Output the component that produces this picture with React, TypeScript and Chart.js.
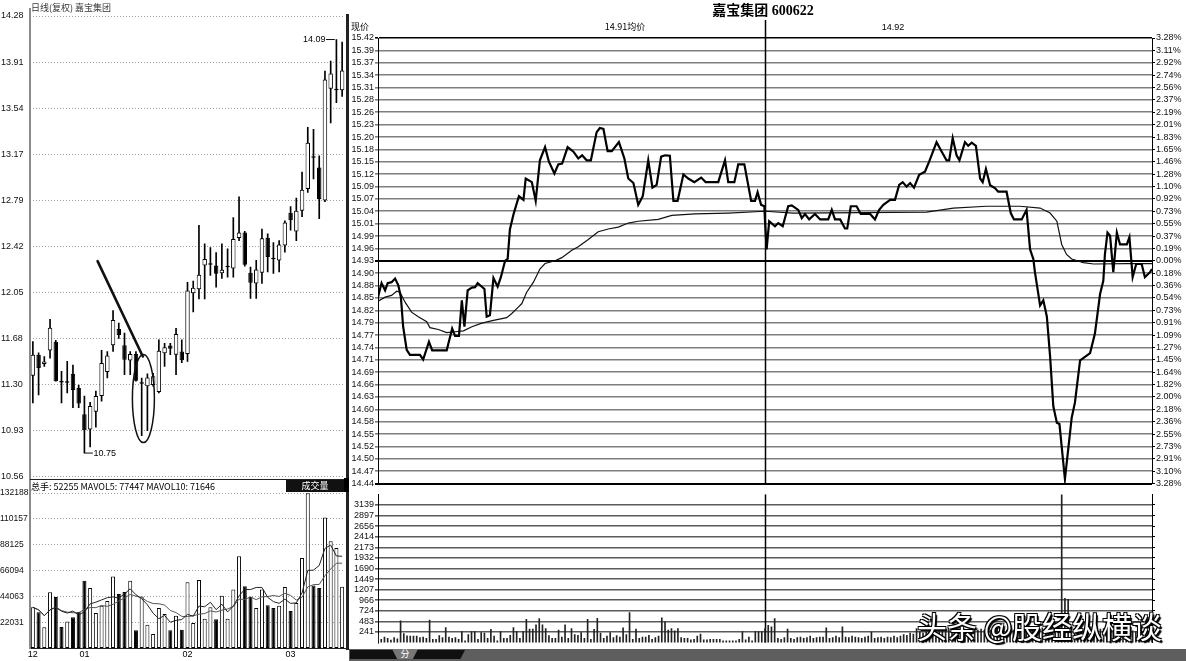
import React, { useEffect, useRef } from 'react';
import { Chart, registerables } from 'chart.js';

Chart.register(...registerables);

const FONT = '"Liberation Sans", Arial, sans-serif';
const CJK = '"Noto Sans CJK SC", "Liberation Sans", sans-serif';

// ---------------- daily K-line (left panel) ----------------
const dayOpen = [11.375, 11.544, 11.47, 11.578, 11.65, 11.33, 11.318, 11.39, 11.276, 11.063,
  10.94, 11.084, 11.21, 11.405, 11.62, 11.752, 11.62, 11.498, 11.55, 11.31,
  11.29, 11.30, 11.244, 11.556, 11.618, 11.544, 11.57, 11.55, 12.04, 12.073,
  12.265, 12.27, 12.265, 12.203, 12.25, 12.24, 12.487, 12.532, 12.206, 12.12,
  12.206, 12.49, 12.32, 12.306, 12.426, 12.69, 12.54, 12.708, 12.882, 13.14,
  13.057, 12.79, 13.693, 13.68, 13.68];
const dayHigh = [11.65, 11.56, 11.53, 11.83, 11.66, 11.41, 11.49, 11.46, 11.30, 11.21,
  11.16, 11.25, 11.58, 11.57, 11.90, 11.80, 11.72, 11.57, 11.57, 11.356,
  11.39, 11.395, 11.664, 11.637, 11.637, 11.757, 11.664, 12.13, 12.14, 12.59,
  12.44, 12.41, 12.37, 12.44, 12.40, 12.652, 12.82, 12.54, 12.253, 12.306,
  12.56, 12.52, 12.45, 12.466, 12.625, 12.74, 12.81, 13.02, 13.38, 13.365,
  13.15, 13.835, 13.916, 14.09, 14.07];
const dayLow = [11.156, 11.22, 11.45, 11.517, 11.33, 11.156, 11.236, 11.116, 11.116, 10.75,
  10.80, 10.96, 11.17, 11.356, 11.57, 11.675, 11.383, 11.383, 11.33, 10.89,
  10.93, 11.29, 11.236, 11.45, 11.544, 11.383, 11.48, 11.49, 11.89, 11.996,
  11.996, 12.185, 12.09, 12.16, 12.17, 12.17, 12.466, 12.26, 12.0, 12.0,
  12.12, 12.213, 12.2, 12.213, 12.373, 12.55, 12.466, 12.66, 12.855, 12.965,
  12.643, 12.78, 13.417, 13.58, 13.63];
const dayClose = [11.544, 11.437, 11.49, 11.763, 11.33, 11.32, 11.33, 11.26, 11.15, 10.934,
  11.13, 11.21, 11.477, 11.538, 11.824, 11.704, 11.504, 11.55, 11.335, 11.31,
  11.36, 11.37, 11.576, 11.605, 11.592, 11.712, 11.50, 12.064, 12.086, 12.19,
  12.318, 12.27, 12.198, 12.23, 12.255, 12.479, 12.532, 12.27, 12.126, 12.232,
  12.485, 12.333, 12.315, 12.434, 12.612, 12.63, 12.708, 12.876, 13.257, 13.135,
  12.803, 13.768, 13.816, 13.69, 13.84];
const dayVolume = [34700, 30400, 17600, 47500, 43500, 17900, 22500, 26200, 30700, 57400,
  51200, 29900, 36000, 40000, 61000, 46000, 47800, 57400, 15100, 44000,
  19900, 11900, 34100, 29000, 15100, 27600, 15600, 56000, 21300, 58000,
  25000, 34700, 24500, 44600, 25000, 49800, 78200, 52600, 43500, 34100,
  49800, 36400, 34100, 36100, 52000, 31600, 38400, 76800, 132000, 53400,
  51200, 111400, 91000, 85300, 52255];

const dayPriceMin = 10.56;
const dayPriceMax = 14.28;
const dayPriceTickLabels = ['10.56', '10.93', '11.30', '11.68', '12.05', '12.42', '12.79', '13.17', '13.54', '13.91', '14.28'];
const dayVolMax = 132188;
const dayVolTickLabels = ['22031', '44063', '66094', '88125', '110157', '132188'];
const monthTickIndex = [0, 9, 27, 45];
const monthTickText = ['12', '01', '02', '03'];

// hand-drawn marks on the K-line (data coordinates)
const trendLine = { fromIndex: 11.3, fromPrice: 12.30, toIndex: 19.2, toPrice: 11.53 };
const circleMark = { index: 19.3, price: 11.19 };

// ---------------- intraday (right panel) ----------------
const prevClose = 14.93;
const intradayMin = 14.44;
const intradayMax = 15.42;
const middayMinute = 120;
const priceTickLabels = ['15.42', '15.39', '15.37', '15.34', '15.31', '15.28', '15.26', '15.23', '15.20', '15.18',
  '15.15', '15.12', '15.09', '15.07', '15.04', '15.01', '14.99', '14.96', '14.93', '14.90',
  '14.88', '14.85', '14.82', '14.79', '14.77', '14.74', '14.71', '14.69', '14.66', '14.63',
  '14.60', '14.58', '14.55', '14.52', '14.50', '14.47', '14.44'];
const pctTickLabels = ['3.28%', '3.11%', '2.92%', '2.74%', '2.56%', '2.37%', '2.19%', '2.01%', '1.83%', '1.65%',
  '1.46%', '1.28%', '1.10%', '0.92%', '0.73%', '0.55%', '0.37%', '0.19%', '0.00%', '0.18%',
  '0.36%', '0.54%', '0.73%', '0.91%', '1.09%', '1.27%', '1.45%', '1.64%', '1.82%', '2.00%',
  '2.18%', '2.36%', '2.55%', '2.73%', '2.91%', '3.10%', '3.28%'];
const minuteVolMax = 3380;
const minuteVolTickLabels = ['241', '483', '724', '966', '1207', '1449', '1690', '1932', '2173', '2414', '2656', '2897', '3139'];

const priceTimes = [0, 1.1, 2.2, 3.0, 4.2, 5.3, 6.3, 7.1, 7.8, 8.9,
  9.9, 13.0, 14.0, 15.8, 16.8, 21.3, 23.0, 23.9, 25.1, 26.0,
  26.8, 27.8, 29.1, 30.1, 30.9, 32.2, 33.0, 33.7, 34.7, 35.8,
  37.1, 38.1, 39.4, 40.2, 40.9, 42.0, 43.7, 45.1, 45.8, 47.7,
  48.9, 50.2, 51.8, 53.0, 54.7, 55.9, 57.1, 58.8, 60.6, 62.1,
  63.3, 64.7, 66.0, 67.8, 68.8, 69.9, 71.2, 72.5, 74.7, 76.4,
  77.6, 79.2, 80.7, 82.1, 83.8, 85.1, 86.4, 87.8, 89.0, 90.5,
  91.6, 92.9, 94.7, 96.2, 98.1, 100.2, 101.6, 105.5, 107.6, 108.6,
  110.5, 111.7, 113.6, 115.7, 116.9, 117.7, 118.8, 119.8, 120.0, 120.5,
  121.3, 123.1, 124.1, 125.5, 127.2, 128.3, 130.3, 131.4, 132.4, 133.7,
  135.5, 137.1, 139.6, 140.7, 141.7, 143.3, 144.8, 145.5, 146.6, 148.4,
  149.7, 152.6, 154.1, 155.4, 156.7, 158.8, 160.3, 161.6, 162.7, 163.9,
  165.0, 166.2, 167.8, 169.6, 170.9, 173.2, 174.8, 176.3, 177.1, 178.2,
  179.4, 180.3, 182.0, 183.0, 184.1, 185.4, 186.7, 187.5, 188.5, 189.8,
  191.3, 192.3, 194.9, 196.2, 197.2, 199.6, 201.1, 202.2, 203.2, 203.7,
  205.3, 206.3, 207.4, 208.4, 209.4, 210.5, 211.3, 213.0, 215.1, 216.1,
  217.7, 218.7, 220.8, 222.3, 223.9, 224.9, 225.4, 226.2, 227.0, 228.0,
  229.1, 230.1, 232.2, 233.0, 234.0, 235.1, 236.8, 237.8, 239.4, 240];
const priceValues = [14.85, 14.881, 14.865, 14.881, 14.883, 14.891, 14.876, 14.85, 14.785, 14.734,
  14.723, 14.723, 14.713, 14.752, 14.733, 14.733, 14.781, 14.765, 14.765, 14.843,
  14.785, 14.865, 14.871, 14.872, 14.881, 14.873, 14.868, 14.807, 14.81, 14.892,
  14.873, 14.894, 14.93, 14.934, 14.999, 15.032, 15.072, 15.064, 15.111, 15.103,
  15.062, 15.151, 15.18, 15.148, 15.122, 15.142, 15.144, 15.18, 15.17, 15.155,
  15.162, 15.151, 15.151, 15.213, 15.222, 15.22, 15.171, 15.171, 15.191, 15.155,
  15.111, 15.101, 15.053, 15.072, 15.151, 15.091, 15.097, 15.159, 15.162, 15.161,
  15.062, 15.062, 15.12, 15.111, 15.103, 15.113, 15.103, 15.103, 15.151, 15.103,
  15.103, 15.142, 15.142, 15.062, 15.062, 15.081, 15.053, 15.05, 15.017, 14.955,
  15.017, 15.006, 15.013, 15.006, 15.05, 15.052, 15.042, 15.024, 15.033, 15.021,
  15.033, 15.021, 15.021, 15.042, 15.021, 15.021, 15.001, 15.001, 15.05, 15.05,
  15.033, 15.033, 15.021, 15.042, 15.053, 15.064, 15.064, 15.097, 15.103, 15.093,
  15.101, 15.091, 15.119, 15.126, 15.148, 15.191, 15.17, 15.151, 15.151, 15.2,
  15.162, 15.151, 15.191, 15.183, 15.19, 15.183, 15.111, 15.103, 15.132, 15.096,
  15.09, 15.082, 15.082, 15.035, 15.021, 15.021, 15.042, 14.955, 14.934, 14.905,
  14.832, 14.843, 14.807, 14.72, 14.61, 14.574, 14.571, 14.45, 14.585, 14.618,
  14.711, 14.716, 14.727, 14.77, 14.857, 14.886, 14.944, 14.992, 14.985, 14.905,
  14.992, 14.966, 14.966, 14.982, 14.894, 14.923, 14.923, 14.894, 14.905, 14.912];

const avgTimes = [0, 2.2, 4.2, 5.8, 6.8, 8.4, 10.4, 12.5, 15.1, 16.1,
  18.7, 21.3, 23.9, 26.5, 29.1, 32.2, 35.8, 39.9, 41.5, 43.5,
  44.6, 46.1, 48.2, 50.2, 51.8, 54.9, 57.0, 60.1, 62.1, 65.2,
  68.3, 71.4, 74.5, 77.6, 80.7, 86.9, 91.1, 98.3, 108.6, 120,
  128.8, 170.1, 178.4, 188.7, 199.1, 205.3, 208.4, 210.5, 212.0, 213.5,
  215.1, 218.7, 221.9, 232.2, 240];
const avgValues = [14.841, 14.85, 14.854, 14.863, 14.861, 14.839, 14.817, 14.807, 14.796, 14.783,
  14.779, 14.772, 14.774, 14.776, 14.785, 14.793, 14.799, 14.805, 14.814, 14.828,
  14.836, 14.861, 14.883, 14.912, 14.924, 14.93, 14.937, 14.953, 14.961, 14.977,
  14.994, 15.0, 15.004, 15.013, 15.017, 15.021, 15.03, 15.033, 15.035, 15.039,
  15.035, 15.037, 15.046, 15.05, 15.05, 15.046, 15.035, 15.017, 14.966, 14.944,
  14.934, 14.926, 14.923, 14.924, 14.924];

const morningVolume = [182, 77, 126, 98, 56, 112, 84, 497, 203, 154,
  147, 147, 147, 112, 126, 98, 511, 77, 77, 161,
  112, 343, 126, 98, 112, 77, 252, 42, 182, 252,
  252, 77, 231, 217, 98, 301, 147, 42, 252, 98,
  98, 168, 343, 252, 98, 252, 532, 308, 308, 406,
  546, 406, 322, 161, 98, 98, 287, 126, 406, 98,
  322, 182, 168, 231, 98, 532, 77, 301, 553, 217,
  98, 147, 231, 112, 161, 126, 336, 182, 686, 77,
  308, 98, 126, 126, 168, 77, 112, 147, 567, 476,
  287, 322, 266, 322, 112, 98, 98, 63, 77, 147,
  196, 63, 63, 77, 77, 77, 77, 42, 42, 42,
  42, 42, 77, 252, 63, 126, 42, 252, 252, 252,
  322];
const afternoonVolume = [392, 357, 546, 98, 77, 112, 308, 98, 77, 112,
  126, 98, 112, 147, 98, 112, 126, 126, 336, 98,
  112, 147, 112, 357, 126, 112, 147, 126, 112, 98,
  126, 147, 238, 98, 112, 126, 98, 126, 112, 147,
  112, 147, 182, 168, 217, 196, 322, 252, 217, 252,
  287, 322, 287, 252, 287, 266, 287, 322, 287, 252,
  308, 287, 266, 287, 322, 287, 308, 287, 322, 287,
  322, 308, 336, 308, 287, 322, 287, 322, 287, 322,
  308, 287, 322, 336, 308, 336, 322, 357, 322, 287,
  322, 3800, 1008, 987, 357, 322, 336, 322, 308, 322,
  357, 322, 336, 308, 322, 287, 322, 308, 287, 322,
  287, 266, 287, 266, 252, 266, 252, 287, 252, 287];

// ---------------- helpers ----------------
const evenTicks = (min: number, max: number, n: number) =>
  Array.from({ length: n }, (_, k) => min + (k * (max - min)) / (n - 1));

const movingAvg = (arr: number[], n: number) =>
  arr.map((_, i) => {
    const s = arr.slice(Math.max(0, i - n + 1), i + 1);
    return s.reduce((a, b) => a + b, 0) / s.length;
  });

const fixWidth = (w: number) => (s: any) => { s.width = w; };

Chart.defaults.font.family = FONT;
Chart.defaults.font.size = 9;
Chart.defaults.color = '#000';

export default function App() {
  const kRef = useRef<HTMLCanvasElement>(null);
  const kvRef = useRef<HTMLCanvasElement>(null);
  const pRef = useRef<HTMLCanvasElement>(null);
  const pvRef = useRef<HTMLCanvasElement>(null);

  useEffect(() => {
    document.body.style.margin = '0';
    const isDown = dayClose.map((c, i) => c < dayOpen[i]);
    const dayLabels = dayOpen.map((_, i) => String(i));
    const commonOpts = {
      responsive: false,
      animation: false as const,
      devicePixelRatio: 1,
      events: [] as any[],
      plugins: { legend: { display: false }, tooltip: { enabled: false } },
    };

    // ---- K-line chart ----
    const kTickVals = evenTicks(dayPriceMin, dayPriceMax, dayPriceTickLabels.length);
    const kMarks = {
      id: 'kMarks',
      afterDatasetsDraw(chart: any) {
        const { ctx } = chart;
        const xs = chart.scales.x;
        const ys = chart.scales.y;
        ctx.save();
        ctx.strokeStyle = '#111';
        ctx.lineCap = 'round';
        ctx.lineWidth = 2.6;
        ctx.beginPath();
        ctx.moveTo(xs.getPixelForValue(trendLine.fromIndex), ys.getPixelForValue(trendLine.fromPrice));
        ctx.lineTo(xs.getPixelForValue(trendLine.toIndex), ys.getPixelForValue(trendLine.toPrice));
        ctx.stroke();
        ctx.lineWidth = 1.5;
        ctx.beginPath();
        ctx.ellipse(xs.getPixelForValue(circleMark.index), ys.getPixelForValue(circleMark.price), 11, 44, 0, 0, Math.PI * 2);
        ctx.stroke();
        // highest / lowest markers
        let hi = 0, lo = 0;
        dayHigh.forEach((v, i) => { if (v > dayHigh[hi]) hi = i; });
        dayLow.forEach((v, i) => { if (v < dayLow[lo]) lo = i; });
        ctx.lineWidth = 1;
        ctx.fillStyle = '#000';
        ctx.font = `9px ${FONT}`;
        ctx.textBaseline = 'middle';
        const hx = xs.getPixelForValue(hi), hy = ys.getPixelForValue(dayHigh[hi]);
        ctx.beginPath(); ctx.moveTo(hx - 2, hy); ctx.lineTo(hx - 10, hy); ctx.stroke();
        ctx.textAlign = 'right';
        ctx.fillText(dayHigh[hi].toFixed(2), hx - 11, hy);
        const lx = xs.getPixelForValue(lo), ly = ys.getPixelForValue(dayLow[lo]);
        ctx.beginPath(); ctx.moveTo(lx + 1, ly); ctx.lineTo(lx + 8, ly); ctx.stroke();
        ctx.textAlign = 'left';
        ctx.fillText(dayLow[lo].toFixed(2), lx + 9, ly);
        ctx.restore();
      },
    };
    const kChart = new Chart(kRef.current as HTMLCanvasElement, {
      type: 'bar',
      data: {
        labels: dayLabels,
        datasets: [
          {
            data: dayLow.map((l, i) => [l, dayHigh[i]]) as any,
            backgroundColor: '#000',
            borderWidth: 0,
            barThickness: 1,
            grouped: false,
            order: 2,
          },
          {
            data: dayOpen.map((o, i) => [o, dayClose[i]]) as any,
            backgroundColor: isDown.map((d) => (d ? '#000' : '#fff')),
            borderColor: '#000',
            borderWidth: 1,
            borderSkipped: false,
            barPercentage: 0.78,
            categoryPercentage: 1,
            minBarLength: 1.5,
            grouped: false,
            order: 1,
          },
        ],
      },
      options: {
        ...commonOpts,
        layout: { padding: { left: 1, right: 3, top: 16, bottom: 3 } },
        scales: {
          x: { type: 'category', display: false, offset: true },
          y: {
            min: dayPriceMin,
            max: dayPriceMax,
            afterBuildTicks: (s: any) => { s.ticks = kTickVals.map((v) => ({ value: v })); },
            afterFit: fixWidth(29),
            ticks: { autoSkip: false, callback: (_v: any, i: number) => dayPriceTickLabels[i], crossAlign: 'far', padding: 0, font: { size: 9 }, color: '#111' },
            grid: { color: '#a0a0a0', lineWidth: 1, drawTicks: false },
            border: { display: false, dash: [1, 2] },
          },
        },
      } as any,
      plugins: [kMarks],
    });

    // ---- daily volume chart ----
    const kvTickVals = dayVolTickLabels.map((_, k) => ((k + 1) * dayVolMax) / dayVolTickLabels.length);
    const kvChart = new Chart(kvRef.current as HTMLCanvasElement, {
      type: 'bar',
      data: {
        labels: dayLabels,
        datasets: [
          {
            type: 'line',
            data: movingAvg(dayVolume, 5),
            borderColor: '#222',
            borderWidth: 1,
            pointRadius: 0,
            tension: 0,
            order: 1,
          } as any,
          {
            type: 'line',
            data: movingAvg(dayVolume, 10),
            borderColor: '#555',
            borderWidth: 1,
            pointRadius: 0,
            tension: 0,
            order: 1,
          } as any,
          {
            data: dayVolume,
            backgroundColor: isDown.map((d) => (d ? '#000' : '#fff')),
            borderColor: '#000',
            borderWidth: 1,
            borderSkipped: false,
            barPercentage: 0.7,
            categoryPercentage: 1,
            order: 2,
          },
        ],
      },
      options: {
        ...commonOpts,
        layout: { padding: { left: 0, right: 3, top: 13, bottom: 0 } },
        scales: {
          x: {
            type: 'category',
            offset: true,
            afterFit: (s: any) => { s.height = 13; },
            ticks: {
              autoSkip: false,
              maxRotation: 0,
              padding: 1,
              font: { size: 9 },
              callback: (_v: any, i: number) => {
                const j = monthTickIndex.indexOf(i);
                return j >= 0 ? monthTickText[j] : '';
              },
            },
            grid: { display: false, drawTicks: false, tickLength: 0 },
            border: { display: true, color: '#222', width: 1 },
          },
          y: {
            min: 0,
            max: dayVolMax,
            afterBuildTicks: (s: any) => { s.ticks = kvTickVals.map((v) => ({ value: v })); },
            afterFit: fixWidth(30),
            ticks: { autoSkip: false, callback: (_v: any, i: number) => dayVolTickLabels[i], crossAlign: 'far', padding: 0, font: { size: 8.5 }, color: '#111' },
            grid: { color: '#a0a0a0', lineWidth: 1, drawTicks: false },
            border: { display: false, dash: [1, 2] },
          },
        },
      } as any,
    });

    // ---- intraday price chart ----
    const nP = priceTickLabels.length;
    const pTickVals = evenTicks(intradayMin, intradayMax, nP);
    const midIdx = pTickVals.findIndex((v) => Math.abs(v - prevClose) < 1e-6);
    const midday = (fromTop: number | null) => ({
      id: 'midday',
      beforeDatasetsDraw(chart: any) {
        const { ctx, chartArea } = chart;
        const x = Math.round(chart.scales.x.getPixelForValue(middayMinute)) + 0.5;
        ctx.save();
        ctx.strokeStyle = '#000';
        ctx.lineWidth = 1.5;
        ctx.beginPath();
        ctx.moveTo(x, fromTop === null ? chartArea.top : fromTop);
        ctx.lineTo(x, chartArea.bottom);
        ctx.stroke();
        ctx.restore();
      },
    });
    const pChart = new Chart(pRef.current as HTMLCanvasElement, {
      type: 'line',
      data: {
        datasets: [
          {
            data: priceTimes.map((t, i) => ({ x: t, y: priceValues[i] })),
            borderColor: '#000',
            borderWidth: 2.2,
            pointRadius: 0,
            tension: 0,
            yAxisID: 'y',
          },
          {
            data: avgTimes.map((t, i) => ({ x: t, y: avgValues[i] })),
            borderColor: '#111',
            borderWidth: 1.2,
            pointRadius: 0,
            tension: 0,
            yAxisID: 'y',
          },
        ],
      },
      options: {
        ...commonOpts,
        layout: { padding: { left: 0, right: 0, top: 38, bottom: 2 } },
        scales: {
          x: { type: 'linear', min: 0, max: 240, display: false },
          y: {
            position: 'left',
            min: intradayMin,
            max: intradayMax,
            afterBuildTicks: (s: any) => { s.ticks = pTickVals.map((v) => ({ value: v })); },
            afterFit: fixWidth(28),
            ticks: { autoSkip: false, callback: (_v: any, i: number) => priceTickLabels[nP - 1 - i], padding: 1, font: { size: 9 }, color: '#111' },
            grid: {
              color: (c: any) => (c.index === 0 || c.index === midIdx || c.index === nP - 1 ? '#000' : '#7e7e7e'),
              lineWidth: (c: any) => (c.index === 0 || c.index === midIdx ? 2 : 1.6),
              tickLength: 3,
            },
            border: { display: true, color: '#000', width: 1 },
          },
          yPct: {
            position: 'right',
            min: intradayMin,
            max: intradayMax,
            afterBuildTicks: (s: any) => { s.ticks = pTickVals.map((v) => ({ value: v })); },
            afterFit: fixWidth(34),
            ticks: { autoSkip: false, callback: (_v: any, i: number) => pctTickLabels[nP - 1 - i], padding: 1, font: { size: 9 }, color: '#111' },
            grid: { drawOnChartArea: false, tickLength: 3, color: '#000' },
            border: { display: true, color: '#000', width: 1 },
          },
        },
      } as any,
      plugins: [midday(20)],
    });

    // ---- intraday volume chart ----
    const minuteVolume = [...morningVolume, ...afternoonVolume];
    const vTickVals = minuteVolTickLabels.map((_, k) => ((k + 1) * minuteVolMax) / (minuteVolTickLabels.length + 1));
    const pvChart = new Chart(pvRef.current as HTMLCanvasElement, {
      type: 'bar',
      data: {
        datasets: [
          {
            data: minuteVolume.map((v, i) => ({ x: i, y: v })),
            backgroundColor: '#222',
            borderWidth: 0,
            barThickness: 1,
          },
        ],
      },
      options: {
        ...commonOpts,
        layout: { padding: { left: 0, right: 0, top: 0, bottom: 0 } },
        scales: {
          x: { type: 'linear', min: 0, max: 240, offset: false, display: false },
          y: {
            position: 'left',
            min: 0,
            max: minuteVolMax,
            afterBuildTicks: (s: any) => { s.ticks = vTickVals.map((v) => ({ value: v })); },
            afterFit: fixWidth(28),
            ticks: { autoSkip: false, callback: (_v: any, i: number) => minuteVolTickLabels[i], padding: 1, font: { size: 9 }, color: '#111' },
            grid: { color: '#5a5a5a', lineWidth: 1.6, tickLength: 3 },
            border: { display: true, color: '#000', width: 1 },
          },
          y2: {
            position: 'right',
            min: 0,
            max: minuteVolMax,
            afterBuildTicks: (s: any) => { s.ticks = vTickVals.map((v) => ({ value: v })); },
            afterFit: fixWidth(34),
            ticks: { display: false },
            grid: { drawOnChartArea: false, tickLength: 3, color: '#000' },
            border: { display: true, color: '#000', width: 1 },
          },
        },
      } as any,
      plugins: [midday(null)],
    });

    return () => {
      kChart.destroy();
      kvChart.destroy();
      pChart.destroy();
      pvChart.destroy();
    };
  }, []);

  const abs = (s: React.CSSProperties): React.CSSProperties => ({ position: 'absolute', ...s });

  return (
    <div style={{ position: 'fixed', left: 0, top: 0, width: 1186, height: 661, background: '#fff', overflow: 'hidden', fontFamily: FONT }}>
      <canvas ref={kRef} width={348} height={482} style={abs({ left: 0, top: 0, width: 348, height: 482 })} />
      <canvas ref={kvRef} width={348} height={181} style={abs({ left: 0, top: 480, width: 348, height: 181 })} />
      <canvas ref={pRef} width={836} height={490} style={abs({ left: 350, top: 0, width: 836, height: 490 })} />
      <canvas ref={pvRef} width={836} height={161} style={abs({ left: 350, top: 488, width: 836, height: 161 })} />

      {/* frame lines */}
      <div style={abs({ left: 29, top: 8, width: 2, height: 641, background: '#8a8a8a' })} />
      <div style={abs({ left: 30, top: 479, width: 316, height: 1, background: '#222' })} />
      <div style={abs({ left: 346, top: 14, width: 3, height: 636, background: '#222' })} />
      <div style={abs({ left: 344, top: 478, width: 5, height: 14, background: '#000' })} />

      {/* left texts */}
      <div style={abs({ left: 31, top: 3, fontSize: 9, color: '#333', fontFamily: CJK, lineHeight: '10px', whiteSpace: 'nowrap' })}>日线(复权) 嘉宝集团</div>
      <div style={abs({ left: 31, top: 481, fontSize: 9, color: '#000', fontFamily: CJK, lineHeight: '11px', whiteSpace: 'nowrap' })}>总手: 52255 MAVOL5: 77447 MAVOL10: 71646</div>
      <div style={abs({ left: 286, top: 480, width: 58, height: 12, background: '#111', color: '#fff', fontSize: 9, fontFamily: CJK, lineHeight: '12px', textAlign: 'center' })}>成交量</div>

      {/* right texts */}
      <div style={abs({ left: 663, top: 2, width: 200, textAlign: 'center', fontSize: 14, fontWeight: 'bold', fontFamily: '"Liberation Serif", "Noto Sans CJK SC", serif', lineHeight: '18px', whiteSpace: 'nowrap' })}>嘉宝集团 600622</div>
      <div style={abs({ left: 351, top: 21, fontSize: 9, fontFamily: CJK, lineHeight: '12px' })}>现价</div>
      <div style={abs({ left: 575, top: 21, width: 100, textAlign: 'center', fontSize: 9, fontFamily: CJK, lineHeight: '12px' })}>14.91均价</div>
      <div style={abs({ left: 863, top: 21, width: 60, textAlign: 'center', fontSize: 9, lineHeight: '12px' })}>14.92</div>

      {/* bottom strip */}
      <div style={abs({ left: 349, top: 649, width: 837, height: 12, background: '#5e5e5e' })} />
      <div style={abs({ left: 350, top: 650, width: 115, height: 9, background: '#111', clipPath: 'polygon(0 0, 100% 0, 96% 100%, 0 100%)' })} />
      <div style={abs({ left: 392, top: 649, width: 26, height: 10, background: '#777', color: '#fff', fontSize: 9, fontFamily: CJK, lineHeight: '10px', textAlign: 'center', clipPath: 'polygon(0 0, 100% 0, 80% 100%, 20% 100%)' })}>分</div>

      {/* watermark */}
      <div style={abs({ left: 917, top: 606, fontSize: 30, lineHeight: '38px', color: '#fff', fontFamily: CJK, whiteSpace: 'nowrap', textShadow: '1px 1px 0 #000, -1px -1px 0 #000, 1px -1px 0 #000, -1px 1px 0 #000, 2px 2px 1px #000' })}>头条 @股经纵横谈</div>
    </div>
  );
}
